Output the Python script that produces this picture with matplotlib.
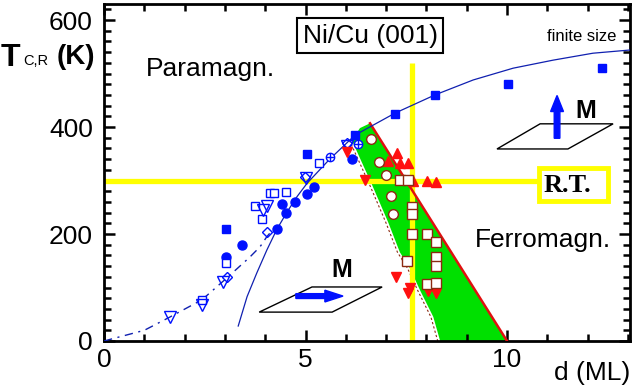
import numpy as np
import matplotlib
matplotlib.use('Agg')
import matplotlib.pyplot as plt
from matplotlib.patches import Polygon, Rectangle, FancyArrow

plt.rcParams['font.family'] = ['Liberation Sans', 'DejaVu Sans']

# finite size curve (solid blue)
d_fs = [3.33, 3.55, 3.79, 4.04, 4.29, 4.54, 4.79, 5.04, 5.6, 6.23, 7.22, 8.21, 9.16, 10.15, 11.14, 12.13, 13.05]
T_fs = [28, 83, 127, 170, 209, 241, 270, 295, 340, 385, 426, 460, 488, 510, 525, 538, 544]
# dash-dot blue curve
d_dash = [0, 1.0, 1.64, 2.43, 3.05, 3.62, 3.87, 4.04, 4.3]
T_dash = [0, 20, 45, 77, 118, 157, 176, 195, 218]

# blue data
sq_fill_d = [3.02, 5.04, 6.23, 7.22, 8.21, 10.03, 12.35]
sq_fill_T = [210, 350, 385, 425, 460, 480, 510]
circ_fill_d = [3.03, 3.43, 4.29, 4.42, 4.52, 4.74, 5.04, 5.21, 6.15]
circ_fill_T = [157, 179, 209, 256, 239, 259, 275, 288, 340]
sq_open_d = [2.43, 3.03, 3.75, 3.93, 4.12, 4.22, 4.52, 5.34]
sq_open_T = [77, 146, 252, 228, 276, 276, 279, 332]
tri_open_d = [1.64, 2.43, 2.95, 3.95, 4.04, 5.01, 6.03]
tri_open_T = [45, 67, 110, 245, 252, 304, 365]
dia_open_d = [3.05, 4.04, 4.99, 6.02]
dia_open_T = [119, 204, 307, 370]
cross_d = [5.6, 6.31]
cross_T = [344, 368]

# red / brown data
tri_up_d = [7.26, 7.05, 7.34, 7.55, 7.67, 8.02, 8.24]
tri_up_T = [351, 336, 333, 333, 299, 299, 297]
tri_dn_d = [6.03, 6.48, 7.25, 7.59, 7.55, 8.04, 8.24]
tri_dn_T = [353, 301, 120, 99, 90, 93, 90]
wcirc_d = [6.62, 6.83, 6.99, 7.12, 7.17]
wcirc_T = [378, 335, 310, 271, 237]
wsq_d = [7.34, 7.55, 7.64, 7.64, 7.64, 8.02, 8.23, 8.23, 8.23, 7.52, 8.02, 8.23]
wsq_T = [301, 301, 250, 237, 200, 200, 185, 157, 140, 149, 107, 108]

# green region boundaries
left_d = [6.15, 6.65, 7.05, 7.34, 7.59, 7.84, 8.17, 8.34]
left_T = [375, 292, 222, 166, 136, 95, 45, 0]
red_d = [6.6, 10.0]
red_T = [407, 0]

fig = plt.figure(figsize=(6.35, 3.91), dpi=100)
ax = fig.add_axes([104/635, 50/391, 526/635, 337/391])
ax.set_xlim(0, 13.05)
ax.set_ylim(0, 630)

brown = '#8b2a10'
poly = list(zip([6.35] + red_d, [398] + red_T)) + list(zip(left_d[::-1], left_T[::-1]))
ax.add_patch(Polygon(poly, closed=True, color='#00e000', lw=0, zorder=1))
ax.plot(np.array(left_d) - 0.06, left_T, ls=(0, (2, 2)), color=brown, lw=0.8, zorder=2)

# yellow guide lines
yel = '#ffff00'
ax.plot([0, 10.8], [300, 300], color=yel, lw=3.8, zorder=2, solid_capstyle='butt')
ax.plot([7.64, 7.64], [0, 520], color=yel, lw=3.8, zorder=2, solid_capstyle='butt')

ax.plot(red_d, red_T, color='#e01010', lw=1.8, zorder=3)
ax.plot(d_fs, T_fs, color='#1020b0', lw=0.9, zorder=3)
ax.plot(d_dash, T_dash, color='#1020b0', lw=1.0, ls=(0, (6, 4, 1.5, 4)), zorder=3)

blue = '#0010ff'
ax.plot(sq_fill_d, sq_fill_T, 's', color=blue, ms=6, zorder=4)
ax.plot(circ_fill_d, circ_fill_T, 'o', color=blue, ms=6.5, zorder=4)
ax.plot(sq_open_d, sq_open_T, 's', mfc='white', mec=blue, mew=1, ms=6, zorder=4)
ax.plot(tri_open_d, tri_open_T, 'v', mfc='none', mec=blue, mew=1, ms=8, zorder=4)
ax.plot(dia_open_d, dia_open_T, 'D', mfc='none', mec=blue, mew=1, ms=5.5, zorder=4)
ax.plot(cross_d, cross_T, 'o', mfc='white', mec=blue, mew=1, ms=6, zorder=4)
ax.plot(cross_d, cross_T, '+', color=blue, mew=1, ms=6, zorder=5)

ax.plot(tri_up_d, tri_up_T, '^', color='#ff1010', ms=7.5, zorder=4)
ax.plot(tri_dn_d, tri_dn_T, 'v', color='#ff1010', ms=7.5, zorder=4)
ax.plot(wcirc_d, wcirc_T, 'o', mfc='white', mec=brown, mew=1, ms=7, zorder=5)
ax.plot(wsq_d, wsq_T, 's', mfc='white', mec=brown, mew=1, ms=6.5, zorder=5)

# ticks
ax.set_xticks([0, 5, 10])
ax.set_xticks(np.arange(0, 14, 1), minor=True)
ax.set_yticks([0, 200, 400, 600])
ax.set_yticks(np.arange(0, 640, 20), minor=True)
ax.tick_params(which='both', direction='in', top=True, right=True, width=1.8, labelsize=19)
ax.tick_params(which='major', length=8)
ax.tick_params(which='minor', length=5)
ax.tick_params(axis='x', pad=5)
ax.tick_params(axis='y', pad=8)
for s in ax.spines.values():
    s.set_linewidth(2)

# axis titles
fig.text(1/635, 1 - 58/391, 'T', fontsize=23, fontweight='bold', va='center')
fig.text(23/635, 1 - 65/391, 'C,R', fontsize=10.5, va='baseline')
fig.text(57/635, 1 - 57/391, '(K)', fontsize=20, fontweight='bold', va='center')
ax.text(13.05, -60, 'd (ML)', fontsize=19, ha='right', va='center', clip_on=False)

# labels
ax.text(1.05, 508, 'Paramagn.', fontsize=19, va='center')
ax.text(9.2, 188, 'Ferromagn.', fontsize=19, va='center')
ax.text(6.6, 571, 'Ni/Cu (001)', fontsize=19, ha='center', va='center',
        bbox=dict(boxstyle='square,pad=0.22', fc='white', ec='black', lw=1.5))
ax.text(12.7, 556, 'finite size', fontsize=12, ha='right', va='bottom')
ax.add_patch(Rectangle((10.8, 262), 1.7, 62, fill=False, ec=yel, lw=3.5, zorder=3))
ax.text(10.9, 291, 'R.T.', fontsize=19, fontweight='bold', family='Liberation Serif',
        ha='left', va='center', zorder=4)

# magnetisation insets
ax.add_patch(Polygon([(9.75, 359), (11.51, 359), (12.63, 406), (10.82, 406)],
                     closed=True, fill=False, ec='black', lw=1, zorder=3))
ax.add_patch(FancyArrow(11.24, 379, 0, 80, width=0.14, head_width=0.32, head_length=30,
                        length_includes_head=True, color=blue, zorder=4))
ax.text(11.95, 430, 'M', fontsize=18, fontweight='bold', ha='center', va='center')
ax.add_patch(Polygon([(3.85, 54), (5.66, 54), (6.9, 101), (5.16, 101)],
                     closed=True, fill=False, ec='black', lw=1, zorder=3))
ax.add_patch(FancyArrow(4.76, 84, 1.17, 0, width=9, head_width=22, head_length=0.45,
                        length_includes_head=True, color=blue, zorder=4))
ax.text(5.9, 132, 'M', fontsize=18, fontweight='bold', ha='center', va='center')

fig.savefig('out.png', dpi=100)
